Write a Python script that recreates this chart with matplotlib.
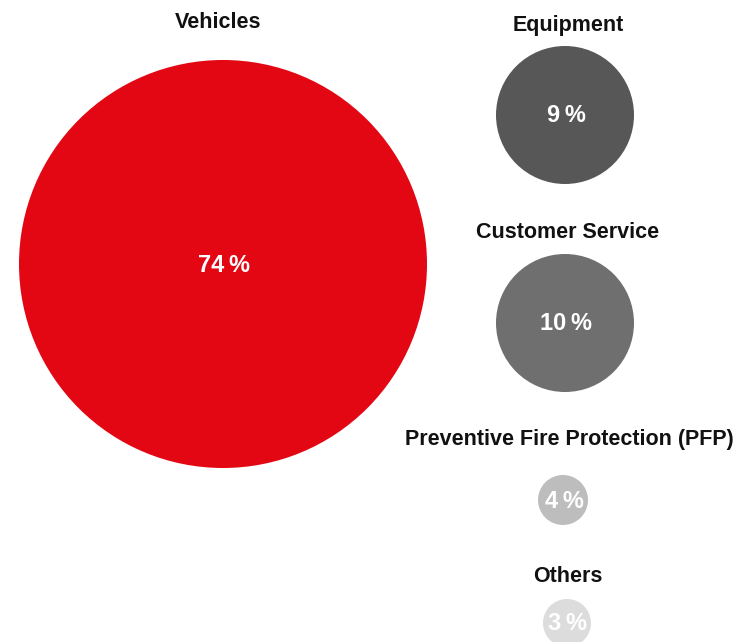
import matplotlib.pyplot as plt
from matplotlib.patches import Circle

# segment shares (percent)
segments = ['Vehicles', 'Equipment', 'Customer Service',
            'Preventive Fire Protection (PFP)', 'Others']
shares = [74, 9, 10, 4, 3]

# layout in pixel coordinates of the 737x642 canvas
centers = [(223, 264), (565, 115), (565, 323), (563, 500), (567, 623)]
radii = [204, 69, 69, 25, 24]
title_y = [23, 26, 232, 439, 577]
title_x = [218, 568, 568, 569, 568]
colors = ['#e30613', '#575757', '#6f6f70', '#bdbdbd', '#dcdcdc']

plt.rcParams['font.family'] = ['Liberation Sans', 'DejaVu Sans']

fig = plt.figure(figsize=(7.37, 6.42), dpi=100)
ax = fig.add_axes([0, 0, 1, 1])
ax.set_xlim(0, 737)
ax.set_ylim(642, 0)
ax.set_aspect('equal')
ax.axis('off')

for name, share, (cx, cy), r, tx, ty, c in zip(segments, shares, centers, radii,
                                              title_x, title_y, colors):
    ax.add_patch(Circle((cx, cy), r, facecolor=c, edgecolor='none'))
    ax.text(tx, ty, name, ha='center', va='center', fontsize=15.5,
            fontweight='bold', color='#111111')
    ax.text(cx + 1, cy + 1, f'{share}\u2009%', ha='center', va='center',
            fontsize=17, fontweight='bold', color='white')

fig.savefig('out.png', dpi=100)
